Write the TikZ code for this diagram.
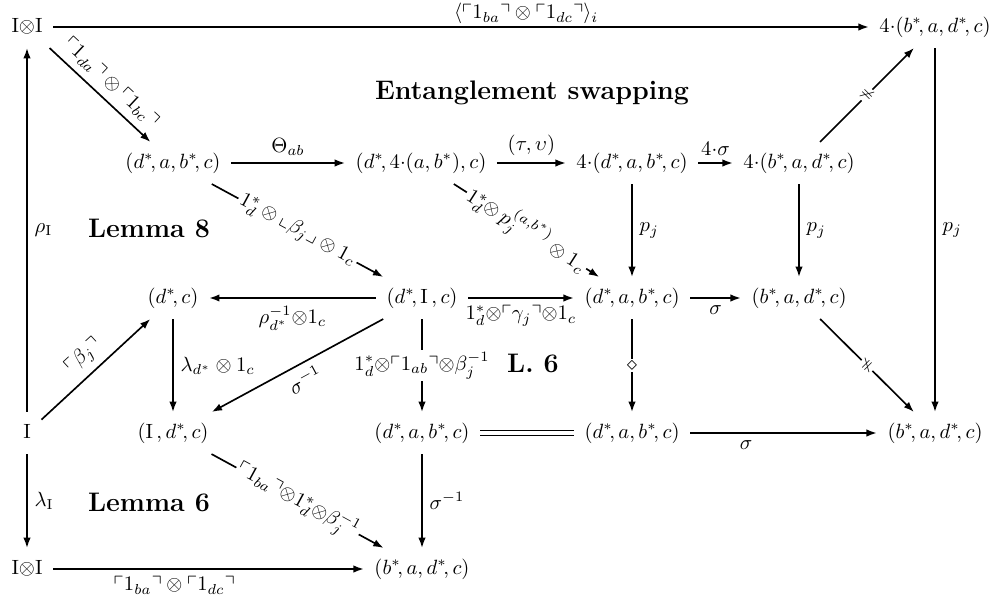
\documentclass[tikz,border=0pt]{standalone}
\usepackage{amssymb}
\usetikzlibrary{arrows.meta}

\begin{document}
\begin{tikzpicture}[
        x=0.485pt, y=0.485pt,
        obj/.style={inner sep=5pt, text height=7.5pt, text depth=2.5pt},
        arr/.style={-{Latex[length=5pt,width=3.6pt]}, line width=0.8pt},
        onlbl/.style={midway, fill=white, inner sep=1pt},
        crossmark/.style={midway, sloped, rotate=90, fill=white, inner sep=0.5pt, font=\scriptsize},
        heading/.style={font=\fontsize{13}{15}\selectfont\bfseries}
    ]
    \useasboundingbox (0,0) rectangle (995,601);

    % Top row
    \node[obj] (a1) at (27,574) {$\mathrm{I}{\otimes}\mathrm{I}$};
    \node[obj] (a2) at (935,574) {$4{\cdot}(b^*\!,a,d^*\!,c)$};

    % Second row
    \node[obj] (b1) at (173,438) {$(d^*\!,a,b^*\!,c)$};
    \node[obj] (b2) at (421,438) {$(d^*\!,4{\cdot}(a,b^*),c)$};
    \node[obj] (b3) at (632,438) {$4{\cdot}(d^*\!,a,b^*\!,c)$};
    \node[obj] (b4) at (799,438) {$4{\cdot}(b^*\!,a,d^*\!,c)$};

    % Third row
    \node[obj] (c1) at (173,303) {$(d^*\!,c)$};
    \node[obj] (c2) at (422,303) {$(d^*\!,\mathrm{I}\,,c)$};
    \node[obj] (c3) at (632,303) {$(d^*\!,a,b^*\!,c)$};
    \node[obj] (c4) at (799,303) {$(b^*\!,a,d^*\!,c)$};

    % Fourth row
    \node[obj] (d1) at (27,168) {$\mathrm{I}$};
    \node[obj] (d2) at (173,168) {$(\mathrm{I}\,,d^*\!,c)$};
    \node[obj] (d3) at (422,168) {$(d^*\!,a,b^*\!,c)$};
    \node[obj] (d4) at (632,168) {$(d^*\!,a,b^*\!,c)$};
    \node[obj] (d5) at (935,168) {$(b^*\!,a,d^*\!,c)$};

    % Bottom row
    \node[obj] (e1) at (27,32) {$\mathrm{I}{\otimes}\mathrm{I}$};
    \node[obj] (e2) at (422,32) {$(b^*\!,a,d^*\!,c)$};

    % Region names
    \node[heading] (title) at (532,508) {Entanglement swapping};
    \node[heading] (lem8) at (149,373) {Lemma 8};
    \node[heading] (l6) at (533,238) {L. 6};
    \node[heading] (lem6) at (149,99) {Lemma 6};

    % Outer arrows
    \draw[arr] (a1) -- node[above, pos=0.58, inner sep=1pt] {$\langle\ulcorner 1_{ba}\urcorner\otimes\ulcorner 1_{dc}\urcorner\rangle_i$} (a2);
    \draw[arr] (d1) -- node[right] {$\rho_{\mathrm{I}}$} (a1);
    \draw[arr] (d1) -- node[right] {$\lambda_{\mathrm{I}}$} (e1);
    \draw[arr] (e1) -- node[below, pos=0.39] {$\ulcorner 1_{ba}\urcorner\otimes\ulcorner 1_{dc}\urcorner$} (e2);
    \draw[arr] (a2) -- node[right] {$p_j$} (d5);

    % Upper part
    \draw[arr] (a1) -- node[above, sloped] {$\ulcorner 1_{da}\urcorner\otimes\ulcorner 1_{bc}\urcorner$} (b1);
    \draw[arr] (b1) -- node[above] {$\Theta_{ab}$} (b2);
    \draw[arr] (b2) -- node[above] {$(\tau,\upsilon)$} (b3);
    \draw[arr] (b3) -- node[above] {$4{\cdot}\sigma$} (b4);
    \draw[arr] (b4) -- node[crossmark] {$\neq$} (a2);
    \draw[arr] (b3) -- node[right] {$p_j$} (c3);
    \draw[arr] (b4) -- node[right] {$p_j$} (c4);
    \draw[arr] (b1) -- node[onlbl, sloped] {$1_d^*\otimes\llcorner\beta_j\lrcorner\otimes 1_c$} (c2);
    \draw[arr] (b2) -- node[onlbl, sloped] {$1_d^*{\otimes}\,p_j^{(a,b^*)}\otimes 1_c$} (c3);

    % Middle part
    \draw[arr] (c2) -- node[below] {$\rho_{d^*}^{-1}{\otimes}1_c$} (c1);
    \draw[arr] (c2) -- node[below] {$1_d^*{\otimes}\ulcorner\gamma_j\urcorner{\otimes}1_c$} (c3);
    \draw[arr] (c3) -- node[below] {$\sigma$} (c4);
    \draw[arr] (c4) -- node[crossmark] {$\neq$} (d5);
    \draw[arr] (d1) -- node[above, sloped] {$\ulcorner\beta_j\urcorner$} (c1);
    \draw[arr] (c1) -- node[right] {$\lambda_{d^*}\otimes 1_c$} (d2);
    \draw[arr] (c2) -- node[below, sloped] {$\sigma^{-1}$} (d2);
    \draw[arr] (c2) -- node[onlbl] {$1_d^*{\otimes}\ulcorner 1_{ab}\urcorner{\otimes}\beta_j^{-1}$} (d3);
    \draw[arr] (c3) -- node[onlbl] {$\diamond$} (d4);

    % Lower part
    \draw[double, double distance=1.5pt, line width=0.5pt] (d3) -- (d4);
    \draw[arr] (d4) -- node[below, pos=0.3] {$\sigma$} (d5);
    \draw[arr] (d3) -- node[right] {$\sigma^{-1}$} (e2);
    \draw[arr] (d2) -- node[onlbl, sloped] {$\ulcorner 1_{ba}\urcorner{\otimes}1_d^*{\otimes}\beta_j^{-1}$} (e2);

\end{tikzpicture}
\end{document}
